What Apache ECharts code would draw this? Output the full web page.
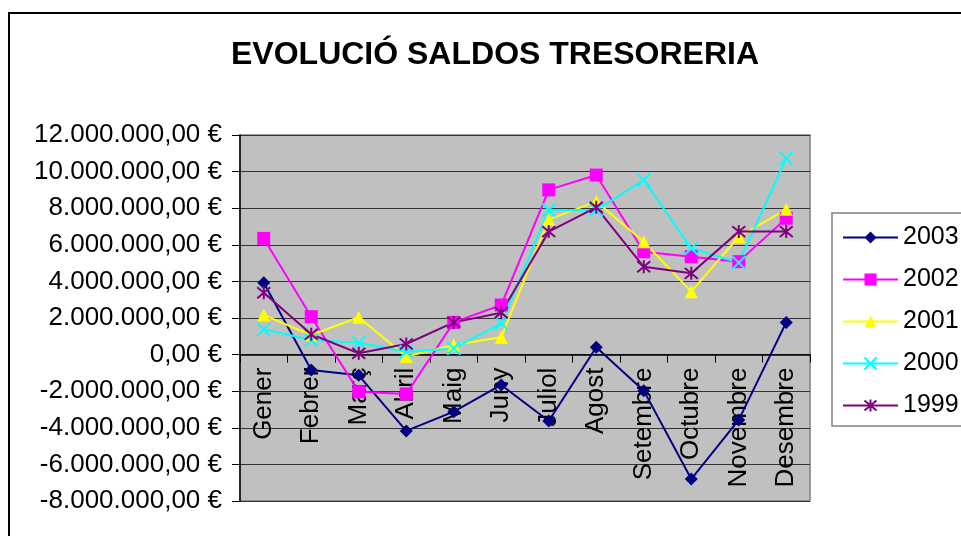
<!DOCTYPE html>
<html>
<head>
<meta charset="utf-8">
<script src="https://cdn.jsdelivr.net/npm/echarts@6/dist/echarts.min.js"></script>
<style>
  html, body { margin: 0; padding: 0; background: #fff; }
  #chart { width: 961px; height: 536px; }
</style>
</head>
<body>
<div id="chart"></div>
<script>
// mesos
const mesos = ["Gener", "Febrer", "Març", "Abril", "Maig", "Juny", "Juliol", "Agost", "Setembre", "Octubre", "Novembre", "Desembre"]

// saldos per any (euros)
const saldos2003 = [3930000, -840000, -1130000, -4170000, -3120000, -1660000, -3630000, 400000, -1970000, -6800000, -3570000, 1760000]
const saldos2002 = [6350000, 2070000, -2030000, -2150000, 1760000, 2710000, 9000000, 9810000, 5620000, 5350000, 5080000, 7450000]
const saldos2001 = [2160000, 1070000, 2040000, -110000, 520000, 950000, 7390000, 8360000, 6170000, 3440000, 6440000, 7940000]
const saldos2000 = [1380000, 800000, 650000, 160000, 340000, 1710000, 7900000, 7900000, 9540000, 5810000, 5020000, 10730000]
const saldos1999 = [3380000, 1110000, 70000, 580000, 1760000, 2290000, 6720000, 8050000, 4800000, 4440000, 6720000, 6720000]

const anys = ["2003", "2002", "2001", "2000", "1999"]

const fontFam = "'Liberation Sans', Arial, sans-serif"

// format 12.000.000,00 €
function euros(v) {
  const s = Math.abs(v).toString().replace(/\B(?=(\d{3})+(?!\d))/g, ".")
  return (v < 0 ? "-" : "") + s + ",00 €"
}

const crossPath = "path://M0,0L10,10M10,0L0,10"
const starPath = "path://M0,0L10,10M10,0L0,10M5,-1L5,11"

function serie(name, data, color, symbol, stroked) {
  return {
    name: name,
    type: "line",
    data: data,
    symbol: symbol,
    symbolSize: 13,
    lineStyle: { color: color, width: 2 },
    itemStyle: stroked
      ? { color: color, borderColor: color, borderWidth: 2 }
      : { color: color, borderWidth: 0 },
    emphasis: { disabled: true },
    animation: false
  }
}

// eix de mesos a l'altura del zero: 8M de 20M sobre 366px
const alcadaGrid = 366
const offsetZero = -alcadaGrid * 8 / 20

const chart = echarts.init(document.getElementById("chart"))
chart.setOption({
  backgroundColor: "#fff",
  textStyle: { fontFamily: fontFam },
  title: {
    text: "EVOLUCIÓ SALDOS TRESORERIA",
    left: 226,
    top: 34,
    textStyle: { fontFamily: fontFam, fontSize: 32, fontWeight: "bold", color: "#000" }
  },
  graphic: [{
    type: "rect",
    shape: { x: 9, y: 13, width: 1000, height: 600 },
    style: { fill: "none", stroke: "#000", lineWidth: 2 },
    silent: true
  }],
  legend: {
    orient: "vertical",
    left: 832,
    top: 213,
    padding: [12, 40, 8, 10],
    itemWidth: 55,
    itemHeight: 15,
    itemGap: 17,
    borderColor: "#808080",
    borderWidth: 1.5,
    data: anys,
    textStyle: { fontFamily: fontFam, fontSize: 25, color: "#000" }
  },
  grid: {
    left: 240, right: 151, top: 135, bottom: 35,
    outerBoundsMode: "none",
    containLabel: false,
    show: true,
    backgroundColor: "#C0C0C0",
    borderColor: "#808080",
    borderWidth: 1.5
  },
  xAxis: {
    type: "category",
    data: mesos,
    position: "bottom",
    offset: offsetZero,
    axisLine: { onZero: false, lineStyle: { color: "#000", width: 1.5 } },
    axisTick: { show: true, length: 8, lineStyle: { color: "#000" } },
    axisLabel: {
      rotate: 90, margin: 13, interval: 0,
      fontFamily: fontFam, fontSize: 26, color: "#000"
    },
    splitLine: { show: false }
  },
  yAxis: {
    type: "value",
    min: -8000000,
    max: 12000000,
    interval: 2000000,
    axisLine: { show: true, lineStyle: { color: "#000", width: 1.5 } },
    axisTick: { show: true, length: 8, lineStyle: { color: "#000" } },
    axisLabel: {
      margin: 18, formatter: euros,
      fontFamily: fontFam, fontSize: 26, color: "#000"
    },
    splitLine: { show: true, lineStyle: { color: "#333", width: 1.2 } }
  },
  series: [
    serie("2003", saldos2003, "#000080", "diamond", false),
    serie("2002", saldos2002, "#FF00FF", "rect", false),
    serie("2001", saldos2001, "#FFFF00", "triangle", false),
    serie("2000", saldos2000, "#00FFFF", crossPath, true),
    serie("1999", saldos1999, "#800080", starPath, true)
  ]
})
</script>
</body>
</html>
